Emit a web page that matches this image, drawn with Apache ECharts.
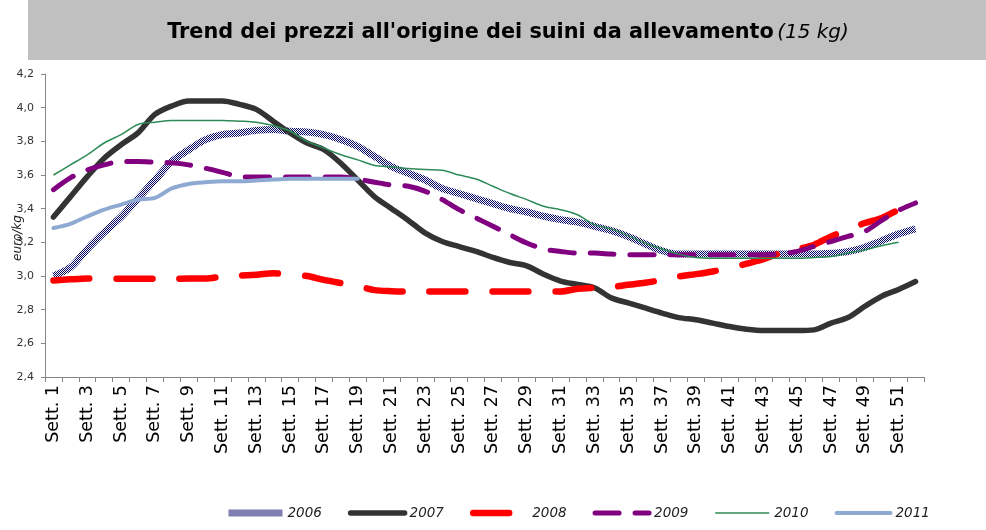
<!DOCTYPE html>
<html>
<head>
<meta charset="utf-8">
<script src="https://cdn.jsdelivr.net/npm/echarts@6/dist/echarts.min.js"></script>
<style>
html,body{margin:0;padding:0;background:#fff;}
#chart{width:986px;height:530px;}
</style>
</head>
<body>
<div id="chart"></div>
<script>
const categories = ["Sett. 1","Sett. 2","Sett. 3","Sett. 4","Sett. 5","Sett. 6","Sett. 7","Sett. 8","Sett. 9","Sett. 10",
"Sett. 11","Sett. 12","Sett. 13","Sett. 14","Sett. 15","Sett. 16","Sett. 17","Sett. 18","Sett. 19","Sett. 20",
"Sett. 21","Sett. 22","Sett. 23","Sett. 24","Sett. 25","Sett. 26","Sett. 27","Sett. 28","Sett. 29","Sett. 30",
"Sett. 31","Sett. 32","Sett. 33","Sett. 34","Sett. 35","Sett. 36","Sett. 37","Sett. 38","Sett. 39","Sett. 40",
"Sett. 41","Sett. 42","Sett. 43","Sett. 44","Sett. 45","Sett. 46","Sett. 47","Sett. 48","Sett. 49","Sett. 50",
"Sett. 51","Sett. 52"];

const y2006 = [3.00,3.05,3.16,3.26,3.35,3.46,3.57,3.68,3.75,3.81,
3.84,3.85,3.865,3.87,3.86,3.855,3.84,3.81,3.77,3.71,
3.65,3.61,3.57,3.52,3.49,3.46,3.43,3.40,3.38,3.355,
3.335,3.32,3.295,3.27,3.235,3.19,3.15,3.13,3.13,3.13,
3.13,3.13,3.13,3.13,3.13,3.13,3.135,3.145,3.17,3.21,
3.25,3.28];

const y2007 = [3.35,3.47,3.59,3.70,3.78,3.85,3.96,4.01,4.04,4.04,
4.04,4.02,3.99,3.92,3.85,3.79,3.75,3.67,3.57,3.47,
3.40,3.33,3.255,3.205,3.175,3.146,3.11,3.08,3.06,3.01,
2.97,2.95,2.93,2.87,2.84,2.81,2.78,2.753,2.74,2.72,
2.70,2.684,2.676,2.676,2.676,2.68,2.72,2.753,2.82,2.88,
2.92,2.967];

const y2008 = [2.973,2.98,2.985,2.983,2.983,2.983,2.983,2.983,2.985,2.985,
2.997,3.003,3.007,3.017,3.007,3.0,2.977,2.958,2.94,2.916,
2.91,2.908,2.908,2.908,2.908,2.908,2.908,2.908,2.908,2.908,
2.908,2.924,2.93,2.934,2.948,2.96,2.977,2.997,3.011,3.027,
3.047,3.073,3.10,3.136,3.16,3.186,3.235,3.275,3.315,3.345,
3.394,3.444];

const y2009 = [3.513,3.583,3.63,3.66,3.68,3.68,3.676,3.672,3.66,3.64,
3.616,3.59,3.588,3.588,3.588,3.588,3.588,3.588,3.576,3.557,
3.54,3.533,3.503,3.454,3.394,3.345,3.295,3.245,3.196,3.16,
3.146,3.136,3.136,3.13,3.126,3.126,3.126,3.126,3.126,3.126,
3.126,3.126,3.126,3.132,3.146,3.176,3.205,3.235,3.265,3.33,
3.39,3.434];

const y2010 = [3.60,3.66,3.72,3.79,3.84,3.90,3.914,3.924,3.924,3.924,
3.924,3.92,3.914,3.894,3.86,3.80,3.76,3.72,3.69,3.656,
3.648,3.638,3.632,3.628,3.60,3.576,3.533,3.49,3.454,3.414,
3.394,3.364,3.305,3.28,3.24,3.196,3.16,3.13,3.11,3.106,
3.106,3.106,3.106,3.106,3.106,3.11,3.116,3.136,3.156,3.18,
3.20,null];

const y2011 = [3.285,3.31,3.354,3.394,3.424,3.454,3.464,3.52,3.547,3.557,
3.563,3.563,3.567,3.573,3.577,3.577,3.577,3.577,3.577];

const seriesNames = ["2006","2007","2008","2009","2010","2011"];
const yTicks = {min: 2.4, max: 4.2, step: 0.2};

const FONT = "'DejaVu Sans', Verdana, sans-serif";

// checkered pattern for 2006
const pc = document.createElement('canvas');
pc.width = 2; pc.height = 2;
const pg = pc.getContext('2d');
pg.fillStyle = '#ffffff'; pg.fillRect(0,0,2,2);
pg.fillStyle = '#000066'; pg.fillRect(0,0,1,1); pg.fillRect(1,1,1,1);
const checker = {image: pc, repeat: 'repeat'};

const chart = echarts.init(document.getElementById('chart'), null, {renderer: 'canvas'});

function line(name, data, style) {
  return {
    name: name, type: 'line', data: data, symbol: 'none', smooth: 0.3,
    connectNulls: false, lineStyle: style, emphasis: {disabled: true},
    itemStyle: {color: typeof style.color === 'string' ? style.color : '#000066', opacity: 0}
  };
}

chart.setOption({
  animation: false,
  backgroundColor: '#ffffff',
  graphic: [
    {type: 'rect', shape: {x: 28, y: 0, width: 958, height: 60}, style: {fill: '#c0c0c0'}, z: 0},
    {type: 'text', x: 508, y: 33, z: 1, style: {
      text: "{b|Trend dei prezzi all'origine dei suini da allevamento} {i|(15 kg)}",
      align: 'center', verticalAlign: 'middle',
      rich: {
        b: {fontFamily: FONT, fontWeight: 'bold', fontSize: 20.8, fill: '#000'},
        i: {fontFamily: FONT, fontStyle: 'italic', fontSize: 20, fill: '#000'}
      }
    }},
    {type: 'text', x: 18, y: 238, rotation: Math.PI/2, z: 1, style: {
      text: 'euro/kg', fontFamily: FONT, fontStyle: 'italic', fontSize: 12, fill: '#222',
      align: 'center', verticalAlign: 'middle'
    }}
  ],
  grid: {left: 45, right: 62, top: 74, bottom: 153, containLabel: false},
  legend: {
    data: seriesNames, left: 220, top: 501, itemWidth: 54, itemHeight: 10, itemGap: 26,
    itemStyle: {opacity: 0},
    lineStyle: {width: 'inherit'},
    textStyle: {fontFamily: FONT, fontStyle: 'italic', fontSize: 13.5, color: '#222'}
  },
  xAxis: {
    type: 'category', data: categories, boundaryGap: true,
    axisLine: {lineStyle: {color: '#868686', width: 1}},
    axisTick: {show: true, interval: 0, length: 5, lineStyle: {color: '#868686'}},
    axisLabel: {interval: 1, rotate: 90, fontSize: 17.5, fontFamily: FONT, color: '#000', margin: 8},
    splitLine: {show: false}
  },
  yAxis: {
    type: 'value', min: yTicks.min, max: yTicks.max, interval: yTicks.step,
    axisLine: {show: true, lineStyle: {color: '#868686', width: 1}},
    axisTick: {show: true, length: 4, lineStyle: {color: '#868686'}},
    axisLabel: {fontSize: 11, fontFamily: FONT, color: '#333', margin: 11,
      formatter: v => v.toFixed(1).replace('.', ',')},
    splitLine: {show: false}
  },
  series: [
    line(seriesNames[0], y2006, {color: checker, width: 7, cap: 'butt'}),
    line(seriesNames[1], y2007, {color: '#333333', width: 5.5, cap: 'round', join: 'round'}),
    line(seriesNames[2], y2008, {color: '#ff0000', width: 6.5, type: [36, 27], cap: 'round', join: 'round'}),
    line(seriesNames[3], y2009, {color: '#800080', width: 5, type: [24, 16], cap: 'round', join: 'round'}),
    line(seriesNames[4], y2010, {color: '#2e8b57', width: 1.5}),
    line(seriesNames[5], y2011, {color: '#8ea9d2', width: 4, cap: 'round', join: 'round'})
  ]
});
</script>
</body>
</html>
